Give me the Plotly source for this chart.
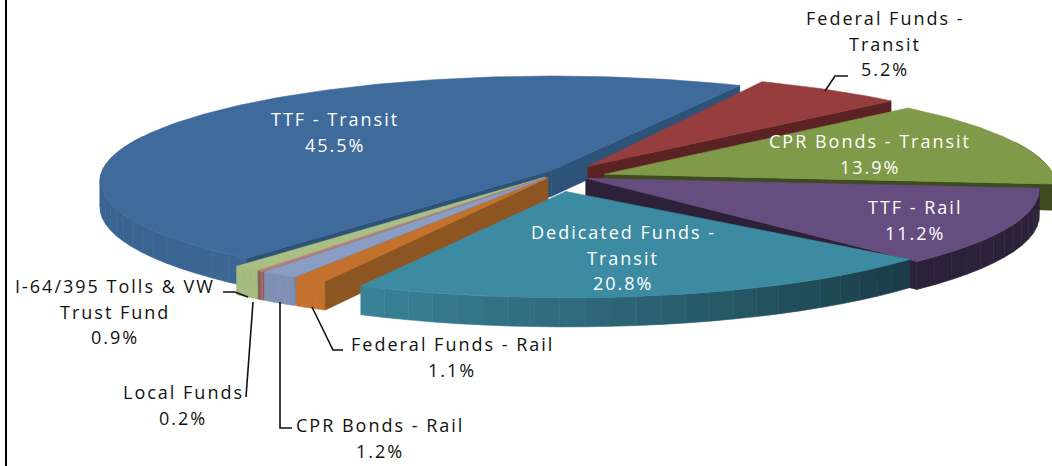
import math
import plotly.graph_objects as go

# --- data (clockwise, starting at the TTF - Transit slice)
slice_names = ["TTF - Transit", "Federal Funds - Transit", "CPR Bonds - Transit", "TTF - Rail",
               "Dedicated Funds - Transit", "Federal Funds - Rail", "CPR Bonds - Rail",
               "Local Funds", "I-64/395 Tolls & VW Trust Fund"]
slice_values = [45.5, 5.2, 13.9, 11.2, 20.8, 1.1, 1.2, 0.2, 0.9]

# --- styling
top_colors = ["#3F6A9C", "#963D3D", "#7F9A48", "#664D80", "#3D8BA3", "#C4712D", "#8A9DC2", "#C27C7C", "#A9BF85"]
wall_from = ["#3C6694", "#5A2222", "#3E4B20", "#2C2139", "#193B46", "#C4712D", "#7F90B4", "#B87272", "#A5BB80"]
wall_to = ["#2F5680", "#5A2222", "#3E4B20", "#2C2139", "#3A8398", "#C4712D", "#7F90B4", "#855858", "#A5BB80"]
face_colors = ["#2E5379", "#5A2222", "#3E4B20", "#2C2139", "#193B46", "#8C5522", "#7288AC", "#855858", "#8FA66C"]
explode = [0.03, 0.10, 0.10, 0.055, 0.11, 0.065, 0.065, 0.065, 0.065]
radius = [1.0, 1.0, 1.0, 1.0, 0.97, 1.0, 1.0, 1.0, 1.0]
shift_x = [0, 0, 0, 0, -5, 0, 0, 0, 0]
shift_y = [0, 3, 6, 4, 0, 0, 0, 0, 0]
apex_y = [0, 0, 0, 0, 8, 0, 0, 0, 0]
# extra rim skew in degrees at each slice's first and last edge
skew_start = [1.3, -2.5, 0, 0, 0, 1.3, 1.3, 1.3, 1.3]
skew_end = [-1.0, 0, 0, 4.0, 0, 1.3, 1.3, 1.3, 1.3]
draw_order = [0, 1, 2, 3, 8, 7, 6, 5, 4]

START_ANGLE = 220.8
VIEW_WARP = 3.5
CX, CY, RX, RY, K, DEPTH = 563.0, 172.0, 450.0, 104.0, 0.10, 26.0

# label lines: slice index, centre x, first line centre y, text lines before the value
label_layout = [
    (0, 335, 119, ["TTF - Transit"], "white"),
    (1, 885, 18, ["Federal Funds -", "Transit"], "#111111"),
    (2, 870, 141, ["CPR Bonds - Transit"], "white"),
    (3, 915, 207, ["TTF - Rail"], "white"),
    (4, 623, 232, ["Dedicated Funds -", "Transit"], "white"),
    (5, 452, 344, ["Federal Funds - Rail"], "#111111"),
    (6, 380, 425, ["CPR Bonds - Rail"], "#111111"),
    (7, 183, 392, ["Local Funds"], "#111111"),
    (8, 115, 286, ["I-64/395 Tolls & VW", "Trust Fund"], "#111111"),
]
LINE_GAP = 25.7
FONT = "Open Sans"
FONT_SIZE = 18

leaders = [
    ([825, 835, 848], [91, 76, 76]),
    ([312, 333, 343], [307, 350, 350]),
    ([280, 280, 292], [302, 428, 428]),
    ([253, 246], [302, 397]),
    ([223, 235, 248], [292, 292, 297]),
]

total = sum(slice_values)
starts, ends, mids = [], [], []
a = START_ANGLE
for v in slice_values:
    sweep = v / total * 360
    starts.append(a)
    ends.append(a + sweep)
    mids.append(a + sweep / 2)
    a += sweep


def project(i, t_deg, r, z):
    f = (t_deg - starts[i]) / (ends[i] - starts[i])
    skew = skew_start[i] + (skew_end[i] - skew_start[i]) * f
    t_deg = t_deg + skew + VIEW_WARP * math.cos(math.radians(t_deg - 40))
    t = math.radians(t_deg)
    m = math.radians(mids[i])
    rr = r * radius[i]
    X = explode[i] * math.sin(m) + rr * math.sin(t)
    Y = explode[i] * math.cos(m) + rr * math.cos(t)
    s = 1.0 / (1.0 + K * Y)
    return (CX + shift_x[i] + RX * s * X,
            CY + shift_y[i] + apex_y[i] * (1 - r) - RY * s * Y + DEPTH * z * s)


def mix(c0, c1, f):
    ca = [int(c0[j:j + 2], 16) for j in (1, 3, 5)]
    cb = [int(c1[j:j + 2], 16) for j in (1, 3, 5)]
    return "#" + "".join(f"{round(x + (y - x) * f):02x}" for x, y in zip(ca, cb))


fig = go.Figure()


def poly(points, color):
    xs = [p[0] for p in points] + [points[0][0]]
    ys = [p[1] for p in points] + [points[0][1]]
    fig.add_trace(go.Scatter(x=xs, y=ys, mode="lines", fill="toself", fillcolor=color,
                             line=dict(color=color, width=0.6), hoverinfo="skip", showlegend=False))


for i in draw_order:
    t0, t1 = starts[i], ends[i]
    n = max(3, int((t1 - t0) / 3))
    for j in range(n):
        a0 = t0 + (t1 - t0) * j / n
        a1 = t0 + (t1 - t0) * (j + 1) / n
        if math.cos(math.radians((a0 + a1) / 2)) > 0.35:
            continue
        poly([project(i, a0, 1, 0), project(i, a1, 1, 0),
              project(i, a1, 1, 1), project(i, a0, 1, 1)],
             mix(wall_from[i], wall_to[i], (j + 0.5) / n))
    if math.sin(math.radians(t1)) > 0:
        poly([project(i, t1, 0, 0), project(i, t1, 1, 0),
              project(i, t1, 1, 1), project(i, t1, 0, 1)], face_colors[i])
    if math.sin(math.radians(t0)) < 0:
        poly([project(i, t0, 0, 0), project(i, t0, 1, 0),
              project(i, t0, 1, 1), project(i, t0, 0, 1)], face_colors[i])
    steps = max(4, int(t1 - t0))
    pts = [project(i, t0, 0, 0)]
    pts += [project(i, t0 + (t1 - t0) * j / steps, 1, 0) for j in range(steps + 1)]
    poly(pts, top_colors[i])

for lx, ly in leaders:
    fig.add_trace(go.Scatter(x=lx, y=ly, mode="lines", line=dict(color="#111111", width=1.6),
                             hoverinfo="skip", showlegend=False))

fig.add_shape(type="line", xref="x", yref="y", x0=6, x1=6, y0=0, y1=466,
              line=dict(color="#000000", width=2))

for idx, x, y, lines, col in label_layout:
    texts = lines + [f"{slice_values[idx]:.1f}%"]
    for k, txt in enumerate(texts):
        fig.add_annotation(x=x, y=y + k * LINE_GAP, xref="x", yref="y", text=txt, showarrow=False,
                           xanchor="center", yanchor="middle",
                           font=dict(family=FONT, size=FONT_SIZE, color=col))

fig.update_layout(
    width=1052, height=466, margin=dict(l=0, r=0, t=0, b=0),
    paper_bgcolor="white", plot_bgcolor="white", showlegend=False,
    xaxis=dict(range=[0, 1052], visible=False, fixedrange=True),
    yaxis=dict(range=[466, 0], visible=False, fixedrange=True),
)
post = ("document.documentElement.style.overflow='hidden';document.body.style.margin='0';"
        "document.querySelectorAll('.annotation-text').forEach(function(e){e.style.letterSpacing='2px';});")
fig.write_html("out.html", config={"displayModeBar": False}, post_script=post)
